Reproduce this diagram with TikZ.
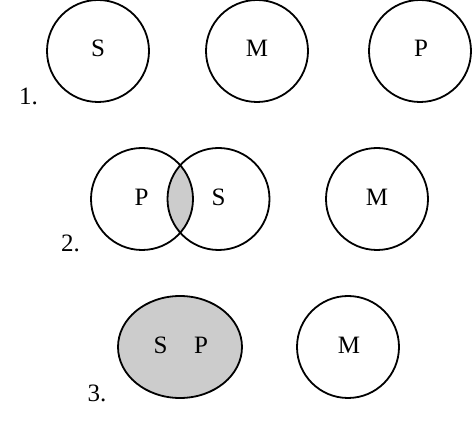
\documentclass[tikz,border=0pt]{standalone}
\usepackage{fontspec}
\setmainfont{Liberation Serif}
\usepackage{tikz}
\usetikzlibrary{shapes.geometric}

\newcommand{\setfont}{\fontsize{25}{30}\selectfont}

\begin{document}
\begin{tikzpicture}[
    x=1pt, y=-1pt,
    set_circle/.style={circle, draw=black, line width=1.8pt, minimum size=102pt, inner sep=0pt, outer sep=0pt},
    set_ellipse/.style={ellipse, draw=black, fill=gray!40, line width=1.8pt, minimum width=124pt, minimum height=102pt, inner sep=0pt, outer sep=0pt},
    set_label/.style={inner sep=0pt, font=\setfont},
    row_label/.style={inner sep=0pt, font=\setfont}
]
\useasboundingbox (0,0) rectangle (472,430);

% Row 1: three separate sets
\node[set_circle] (s1) at (98,51) {};
\node[set_circle] (m1) at (257,51) {};
\node[set_circle] (p1) at (420,51) {};
\node[set_label] (s1_text) at (98,48) {S};
\node[set_label] (m1_text) at (257,48) {M};
\node[set_label] (p1_text) at (421,48) {P};
\node[row_label] (row1) at (28.5,96) {1.};

% Row 2: P and S overlap, shaded common part
\begin{scope}
  \clip (142,199) circle[radius=51];
  \fill[gray!40] (218.5,199) circle[radius=51];
\end{scope}
\node[set_circle] (p2) at (142,199) {};
\node[set_circle] (s2) at (218.5,199) {};
\node[set_circle] (m2) at (377,199) {};
\node[set_label] (p2_text) at (141.5,197) {P};
\node[set_label] (s2_text) at (218.5,197) {S};
\node[set_label] (m2_text) at (377,197) {M};
\node[row_label] (row2) at (70.5,243.5) {2.};

% Row 3: S and P coincide
\node[set_ellipse] (sp3) at (180,347) {};
\node[set_circle] (m3) at (348,347) {};
\node[set_label] (s3_text) at (160.5,345) {S};
\node[set_label] (p3_text) at (201,345) {P};
\node[set_label] (m3_text) at (349,345) {M};
\node[row_label] (row3) at (97,393) {3.};

\end{tikzpicture}
\end{document}
